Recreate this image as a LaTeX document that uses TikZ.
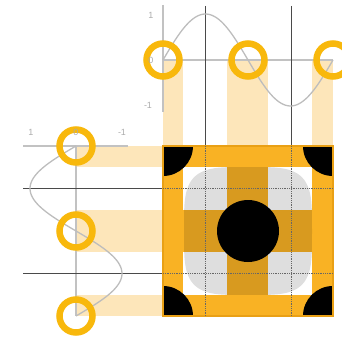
\documentclass[tikz,border=0pt]{standalone}
\usepackage{fontspec}
\setmainfont{Liberation Sans}
\definecolor{ring}{HTML}{F8B80C}
\definecolor{sq}{HTML}{F9B224}
\definecolor{sqedge}{HTML}{E9A015}
\definecolor{bar}{HTML}{FDE6BA}
\definecolor{axisg}{HTML}{C2C2C2}
\definecolor{curveg}{HTML}{BDBDBD}
\definecolor{darkl}{HTML}{4A4A4A}
\definecolor{lab}{HTML}{ABABAB}
\tikzset{
  ringc/.style={draw=ring, line width=6.5pt, fill=none, circle, minimum size=33pt, inner sep=0pt},
  lbl/.style={text=lab, font=\fontsize{9}{9}\selectfont, inner sep=0pt},
  axisline/.style={draw=axisg, line width=1.1pt},
  curve/.style={draw=curveg, line width=1.3pt},
  darkline/.style={draw=darkl, line width=0.9pt},
  dotline/.style={draw=black!60, line width=0.6pt, dash pattern=on 0.8pt off 1pt},
}
\begin{document}
\begin{tikzpicture}[x=1pt,y=-1pt]
\useasboundingbox (0,0) rectangle (342,339);
% shaded bars
\fill[bar] (163,60) rectangle (183,146);
\fill[bar] (227,60) rectangle (268,146);
\fill[bar] (312,60) rectangle (333,146);
\fill[bar] (76,146) rectangle (163,167);
\fill[bar] (76,210) rectangle (163,252);
\fill[bar] (76,295) rectangle (163,316);
% top graph axes
\coordinate (tx0) at (163,60); \coordinate (tx1) at (333,60);
\coordinate (ty0) at (163,5); \coordinate (ty1) at (163,112);
\draw[axisline] (tx0) -- (tx1);
\draw[axisline] (ty0) -- (ty1);
% left graph axes
\coordinate (lx0) at (23,146); \coordinate (lx1) at (128,146);
\coordinate (ly0) at (76,146); \coordinate (ly1) at (76,316);
\draw[axisline] (lx0) -- (lx1);
\draw[axisline] (ly0) -- (ly1);
% dark grid lines
\coordinate (v1a) at (205,6); \coordinate (v1b) at (205,146);
\coordinate (v2a) at (291,6); \coordinate (v2b) at (291,146);
\coordinate (h1a) at (23,188); \coordinate (h1b) at (163,188);
\coordinate (h2a) at (23,273); \coordinate (h2b) at (163,273);
\draw[darkline] (v1a) -- (v1b);
\draw[darkline] (v2a) -- (v2b);
\draw[darkline] (h1a) -- (h1b);
\draw[darkline] (h2a) -- (h2b);
% curves
\draw[curve] plot[domain=163:333, samples=80, smooth] (\x, {60-46*sin((\x-163)/170*360)});
\draw[curve] plot[domain=146:316, samples=80, smooth] ({76-46*sin((\x-146)/170*360)}, \x);
% square
\fill[sq] (163,146) rectangle (333,316);
\fill[white] (183,167) rectangle (227,210);
\fill[white] (268,167) rectangle (312,210);
\fill[white] (183,252) rectangle (227,295);
\fill[white] (268,252) rectangle (312,295);
\fill[black, opacity=0.13] plot[domain=0:360, samples=120, smooth cycle] ({248+64*sign(cos(\x))*sqrt(abs(cos(\x)))}, {231+64*sign(sin(\x))*sqrt(abs(sin(\x)))});
\begin{scope}
\clip (163,146) rectangle (333,316);
\fill[black] (163,146) circle (30);
\fill[black] (333,146) circle (30);
\fill[black] (163,316) circle (30);
\fill[black] (333,316) circle (30);
\end{scope}
\fill[black] (248,231) circle (31);
\draw[sqedge, line width=1.2pt] (163,146) rectangle (333,316);
% dotted continuation
\coordinate (dv1a) at (205,146); \coordinate (dv1b) at (205,316);
\coordinate (dv2a) at (291,146); \coordinate (dv2b) at (291,316);
\coordinate (dh1a) at (163,188); \coordinate (dh1b) at (333,188);
\coordinate (dh2a) at (163,273); \coordinate (dh2b) at (333,273);
\draw[dotline] (dv1a) -- (dv1b);
\draw[dotline] (dv2a) -- (dv2b);
\draw[dotline] (dh1a) -- (dh1b);
\draw[dotline] (dh2a) -- (dh2b);
% rings
\node[ringc] (c1) at (163,60) {};
\node[ringc] (c2) at (248,60) {};
\node[ringc] (c3) at (333,60) {};
\node[ringc] (r1) at (76,146) {};
\node[ringc] (r2) at (76,231) {};
\node[ringc] (r3) at (76,316) {};
% labels
\node[lbl] (t1) at (151,15) {1};
\node[lbl] (t0) at (151,60) {0};
\node[lbl] (tm) at (148,105) {-1};
\node[lbl] (l1) at (31,132) {1};
\node[lbl] (l0) at (76,132) {0};
\node[lbl] (lm) at (122,132) {-1};
\end{tikzpicture}
\end{document}
